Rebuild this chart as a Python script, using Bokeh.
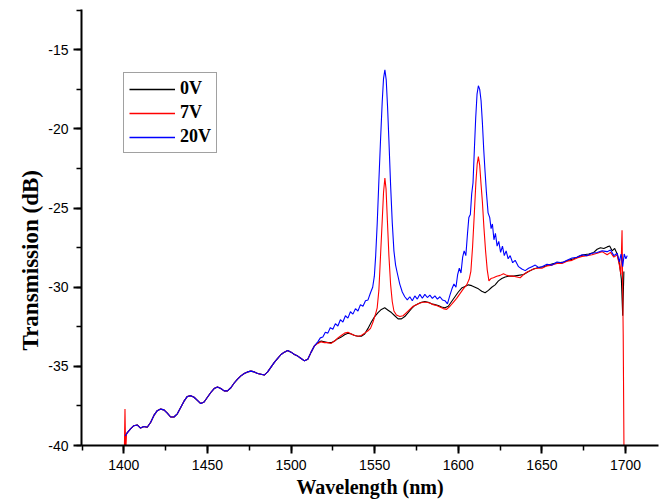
from bokeh.plotting import figure
from bokeh.models import (Range1d, Legend, LegendItem, Title, SingleIntervalTicker,
                          PrintfTickFormatter)
from bokeh.embed import file_html
from bokeh.resources import INLINE

# ---- data (wavelength nm, transmission dB) ----
series_names = ["0V", "7V", "20V"]
series_colors = ["#000000", "#ff0000", "#0000ff"]

# shared low-wavelength part (all three curves overlap here)
base_wl = [1402, 1404, 1406, 1408, 1410, 1412, 1414, 1416, 1418, 1420, 1422, 1424,
           1426, 1428, 1430, 1432, 1434, 1436, 1438, 1440, 1442, 1444, 1446, 1448,
           1450, 1452, 1454, 1456, 1458, 1460, 1462, 1464, 1466, 1468, 1470, 1472,
           1474, 1476, 1478, 1480, 1482, 1484, 1486, 1488, 1490, 1492, 1494, 1496,
           1498, 1500, 1502, 1504, 1506, 1508, 1510, 1512, 1514]
base_db = [-39.2, -38.95, -38.75, -38.7, -38.9, -38.8, -38.85, -38.55, -38.1, -37.8,
           -37.7, -37.75, -37.95, -38.2, -38.2, -38.0, -37.6, -37.2, -36.9, -36.85,
           -36.95, -37.15, -37.35, -37.25, -36.95, -36.65, -36.4, -36.3, -36.4, -36.55,
           -36.55, -36.35, -36.05, -35.8, -35.6, -35.45, -35.35, -35.3, -35.35, -35.45,
           -35.5, -35.55, -35.35, -35.05, -34.75, -34.5, -34.25, -34.1, -34.0, -34.1,
           -34.25, -34.35, -34.5, -34.65, -34.55, -34.1, -33.7]

black_head = [(1400.6, -39.5), (1401.2, -39.35)]
red_head = [(1400.3, -40.5), (1400.7, -37.7), (1401.1, -40.5), (1401.6, -39.3)]
blue_head = [(1400.8, -39.4)]

black_tail = [
    (1516, -33.5), (1518, -33.4), (1520, -33.45), (1522, -33.5), (1524, -33.5),
    (1526, -33.4), (1528, -33.25), (1530, -33.15), (1532, -33.0), (1534, -32.9),
    (1536, -32.95), (1538, -33.05), (1540, -33.1), (1542, -33.1), (1544, -32.95),
    (1546, -32.6), (1548, -32.2), (1550, -31.85), (1552, -31.6), (1554, -31.4),
    (1556, -31.3), (1558, -31.45), (1560, -31.6), (1562, -31.8), (1564, -32.0),
    (1566, -32.0), (1568, -31.85), (1570, -31.6), (1572, -31.35), (1574, -31.15),
    (1576, -31.05), (1578, -30.95), (1580, -30.9), (1582, -30.95), (1584, -31.05),
    (1586, -31.1), (1588, -31.15), (1590, -31.25), (1592, -31.3), (1594, -31.2),
    (1596, -30.9), (1598, -30.6), (1600, -30.3), (1602, -30.05), (1604, -29.95),
    (1606, -29.85), (1608, -29.9), (1610, -30.0), (1612, -30.1), (1614, -30.25),
    (1616, -30.35), (1618, -30.2), (1620, -30.0), (1622, -29.85), (1624, -29.6),
    (1626, -29.45), (1628, -29.35), (1630, -29.3), (1633, -29.3), (1636, -29.25),
    (1639, -29.2), (1642, -29.0), (1645, -28.85), (1648, -28.75), (1651, -28.7),
    (1654, -28.6), (1657, -28.5), (1660, -28.45), (1663, -28.4), (1666, -28.3),
    (1669, -28.2), (1672, -28.05), (1675, -27.95), (1678, -27.9), (1681, -27.8),
    (1683, -27.6), (1685, -27.5), (1687, -27.55), (1689, -27.45), (1690.5, -27.4),
    (1692, -27.7), (1693.5, -27.55), (1695, -27.9), (1696.5, -28.6), (1697.5, -29.5),
    (1698.3, -31.8), (1699, -29.0)]

red_tail = [
    (1516, -33.55), (1518, -33.45), (1520, -33.5), (1522, -33.5), (1524, -33.55),
    (1526, -33.4), (1528, -33.2), (1530, -33.05), (1532, -32.9), (1534, -32.85),
    (1536, -32.95), (1538, -33.05), (1540, -33.1), (1542, -33.05), (1544, -32.9),
    (1546, -32.75), (1547.5, -32.6), (1549, -32.2), (1550.5, -31.7), (1551.5, -31.3),
    (1552.5, -30.2), (1553.5, -28.0), (1554.5, -25.8), (1555.3, -24.0), (1556.1, -23.1),
    (1556.8, -23.8), (1557.6, -25.8), (1558.5, -28.0), (1559.5, -29.8), (1560.5, -30.9),
    (1561.5, -31.5), (1563, -31.75), (1565, -31.85), (1567, -31.8), (1569, -31.6),
    (1571, -31.4), (1573, -31.2), (1575, -31.1), (1577, -31.0), (1579, -30.95),
    (1581, -30.95), (1583, -31.0), (1585, -31.1), (1587, -31.15), (1589, -31.25),
    (1591, -31.35), (1593, -31.4), (1595, -31.2), (1597, -30.95), (1599, -30.7),
    (1601, -30.4), (1603, -30.1), (1605, -29.85), (1606.5, -29.5), (1607.5, -29.0),
    (1608.5, -27.5), (1609.5, -25.5), (1610.5, -23.4), (1611.3, -22.2), (1612, -21.75),
    (1612.8, -22.3), (1613.6, -23.5), (1614.4, -24.6), (1615.3, -26.2), (1616.3, -27.7),
    (1617.3, -28.9), (1618.3, -29.6), (1619.5, -29.45), (1621, -29.4), (1623, -29.3),
    (1625, -29.25), (1627, -29.15), (1629, -29.25), (1631, -29.3), (1633, -29.3),
    (1635, -29.35), (1637, -29.4), (1639, -29.2), (1641, -29.05), (1643, -28.95),
    (1645, -28.85), (1647, -28.8), (1650, -28.8), (1653, -28.65), (1656, -28.6),
    (1659, -28.5), (1662, -28.5), (1665, -28.35), (1668, -28.3), (1671, -28.15),
    (1674, -28.05), (1677, -28.0), (1680, -27.95), (1683, -27.85), (1686, -27.75),
    (1689, -27.95), (1691, -27.8), (1693, -28.1), (1695, -27.95), (1696.3, -28.6),
    (1697.2, -29.2), (1697.9, -26.4), (1698.6, -33.0), (1699.1, -41.0)]

blue_tail = [
    (1516, -33.45), (1517.5, -33.2), (1519, -33.15), (1520.5, -32.85), (1522, -32.9),
    (1523.5, -32.55), (1525, -32.65), (1526.5, -32.3), (1528, -32.45), (1529.5, -32.05),
    (1531, -32.2), (1532.5, -31.8), (1534, -31.95), (1535.5, -31.55), (1537, -31.7),
    (1538.5, -31.35), (1540, -31.5), (1541.5, -31.1), (1543, -31.2), (1544.5, -30.85),
    (1546, -30.8), (1547.5, -30.35), (1548.8, -30.0), (1549.8, -29.3), (1550.6, -28.0),
    (1551.5, -26.0), (1552.5, -23.3), (1553.5, -20.7), (1554.5, -18.3), (1555.3, -16.8),
    (1556.1, -16.26), (1556.9, -16.9), (1557.7, -18.6), (1558.5, -20.7), (1559.5, -23.5),
    (1560.5, -25.9), (1561.5, -27.7), (1562.5, -28.6), (1563.5, -29.1), (1565, -29.8),
    (1566.5, -30.3), (1568, -30.6), (1569.5, -30.8), (1571, -30.6), (1572.5, -30.85),
    (1574, -30.55), (1575.5, -30.75), (1577, -30.45), (1578.5, -30.7), (1580, -30.45),
    (1581.5, -30.65), (1583, -30.5), (1584.5, -30.7), (1586, -30.55), (1587.5, -30.75),
    (1589, -30.6), (1590.5, -30.8), (1592, -30.85), (1593.5, -31.05), (1595, -30.5),
    (1596.2, -30.1), (1597.4, -29.8), (1598.6, -30.0), (1599.6, -29.2), (1600.6, -28.8),
    (1601.6, -29.1), (1602.6, -28.1), (1603.5, -27.7), (1604.5, -28.0), (1605.5, -26.6),
    (1606.3, -25.6), (1607.2, -25.4), (1608, -24.1), (1608.8, -23.4), (1609.6, -21.3),
    (1610.4, -19.3), (1611.2, -17.8), (1612, -17.27), (1612.8, -17.5), (1613.6, -18.2),
    (1614.4, -19.6), (1615.2, -21.3), (1616, -22.7), (1616.8, -24.0), (1617.8, -25.3),
    (1618.8, -25.6), (1619.6, -26.3), (1620.4, -26.0), (1621.3, -27.0), (1622.2, -26.6),
    (1623.2, -27.4), (1624.2, -27.1), (1625.3, -27.8), (1626.4, -27.4), (1627.5, -28.0),
    (1628.6, -27.7), (1629.8, -28.2), (1631, -28.0), (1632.5, -28.45), (1634, -28.3),
    (1636, -28.7), (1638, -28.85), (1640, -28.95), (1642, -28.8), (1644, -28.7),
    (1646, -28.6), (1648, -28.75), (1650, -28.7), (1653, -28.55), (1656, -28.6),
    (1659, -28.4), (1662, -28.45), (1665, -28.3), (1668, -28.15), (1671, -28.1),
    (1674, -27.95), (1677, -28.0), (1680, -27.85), (1683, -27.8), (1686, -27.7),
    (1689, -27.75), (1691, -27.65), (1693, -28.0), (1695, -27.85), (1696.3, -28.4),
    (1697.3, -27.9), (1698.3, -28.7), (1699.2, -27.9), (1700.2, -28.2), (1701, -28.0)]

x_ticks_interval = 50
y_ticks_interval = 5


def assemble(head, tail):
    pts = list(head) + list(zip(base_wl, base_db)) + list(tail)
    return [a for a, _ in pts], [b for _, b in pts]


curves = [assemble(black_head, black_tail),
          assemble(red_head, red_tail),
          assemble(blue_head, blue_tail)]

p = figure(width=660, height=502, output_backend="svg", toolbar_location=None,
           x_range=Range1d(1374.7, 1719.7), y_range=Range1d(-40, -12.45),
           min_border_left=81, min_border_right=2, min_border_top=9,
           min_border_bottom=57)
p.outline_line_color = None
p.background_fill_color = "white"
p.border_fill_color = "white"
p.xgrid.visible = False
p.ygrid.visible = False

# data lines
for (wl, db), col in zip(curves, series_colors):
    p.line(wl, db, line_color=col, line_width=1.1)

# legend sample renderers: no visible data (NaN), only used to draw legend keys
nan = float("nan")
legend_renderers = [p.line([nan, nan], [nan, nan], line_color=col, line_width=1.4)
                    for col in series_colors]

legend = Legend(items=[LegendItem(label=n, renderers=[r], index=0)
                       for n, r in zip(series_names, legend_renderers)],
                location=(42, 292))
legend.border_line_color = "#444444"
legend.border_line_width = 1.5
legend.background_fill_color = "white"
legend.background_fill_alpha = 1
legend.label_text_font = "Liberation Serif"
legend.label_text_font_style = "bold"
legend.label_text_font_size = "18px"
legend.label_text_color = "black"
legend.glyph_width = 46
legend.glyph_height = 20
legend.label_height = 20
legend.spacing = 3
legend.padding = 5
legend.margin = 0
legend.label_standoff = 5
p.add_layout(legend, "center")

for ax in (p.xaxis[0], p.yaxis[0]):
    ax.axis_line_width = 2
    ax.axis_line_color = "black"
    ax.major_tick_in = 0
    ax.major_tick_out = 8
    ax.minor_tick_in = 0
    ax.minor_tick_out = 5
    ax.major_tick_line_width = 2
    ax.minor_tick_line_width = 1.5
    ax.major_tick_line_color = "black"
    ax.minor_tick_line_color = "black"
    ax.major_label_text_font = "Liberation Sans"
    ax.major_label_text_font_size = "14px"
    ax.major_label_text_color = "black"
    ax.axis_label_text_font = "Liberation Serif"
    ax.axis_label_text_font_style = "bold"
    ax.axis_label_text_font_size = "20px"
    ax.axis_label_text_color = "black"
    ax.formatter = PrintfTickFormatter(format="%d")

p.xaxis[0].ticker = SingleIntervalTicker(interval=x_ticks_interval, num_minor_ticks=2)
p.yaxis[0].ticker = SingleIntervalTicker(interval=y_ticks_interval, num_minor_ticks=2)
p.xaxis[0].axis_label = "Wavelength (nm)"
p.xaxis[0].major_label_standoff = 6
p.xaxis[0].axis_label_standoff = 3
p.yaxis[0].major_label_standoff = 5

ytitle = Title(text="Transmission (dB)", align="left", offset=95,
               text_font="Liberation Serif", text_font_style="bold",
               text_font_size="23px", text_color="black", standoff=6)
p.add_layout(ytitle, "left")

open("out.html", "w").write(file_html(p, INLINE))
